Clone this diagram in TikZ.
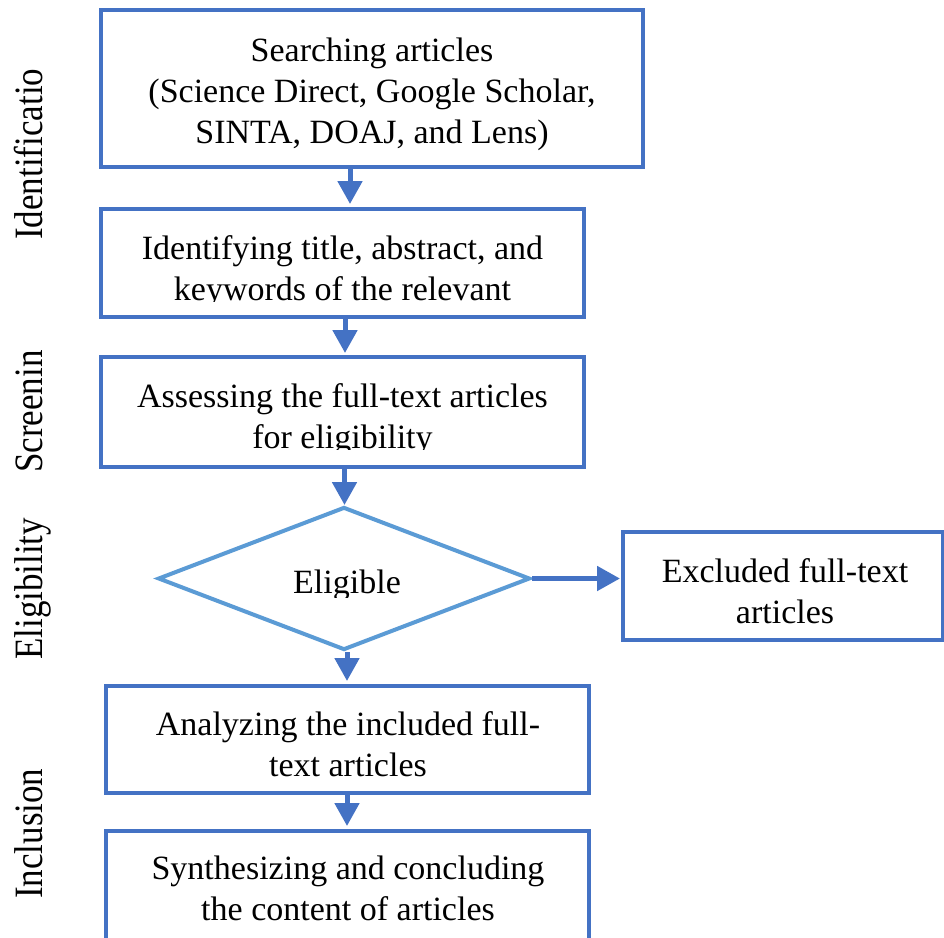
\documentclass[tikz,border=0pt]{standalone}
\usepackage{fontspec}
\setmainfont{Liberation Serif}
\usepackage{graphicx}
\usetikzlibrary{arrows.meta,shapes.geometric}
\definecolor{boxblue}{HTML}{4472C4}
\definecolor{diablue}{HTML}{5B9BD5}
\begin{document}
\begin{tikzpicture}[x=1pt,y=-1pt,
  box/.style={draw=boxblue, line width=4pt, rectangle, inner sep=0pt},
  txt/.style={font=\fontsize{34pt}{41pt}\selectfont, align=center, inner sep=0pt, anchor=base},
  side/.style={font=\fontsize{35pt}{41pt}\selectfont, rotate=90, anchor=base west, inner sep=0pt},
  arr/.style={draw=boxblue, line width=5pt, -{Triangle[length=23pt,width=24pt]}},
]
\fill[white] (0,0) rectangle (944,937);
\useasboundingbox (0,0) rectangle (944,937);

% boxes
\node[box, minimum width=542pt, minimum height=157pt] (b1) at (372,88.5) {};
\node[box, minimum width=483pt, minimum height=108pt] (b2) at (342.5,263) {};
\node[box, minimum width=483pt, minimum height=110pt] (b3) at (342.5,412) {};
\node[draw=diablue, line width=4pt, diamond, minimum width=372pt, minimum height=143pt, inner sep=0pt] (dia) at (344,578.5) {};
\node[box, minimum width=320pt, minimum height=108pt] (ex) at (783,586) {};
\node[box, minimum width=483pt, minimum height=107pt] (b4) at (347.5,739.5) {};
\node[box, minimum width=483pt, minimum height=110pt] (b5) at (347.5,886) {};

% texts (base anchor = baseline of last line)
\node[txt] (t1) at (372,143) {Searching articles\\(Science Direct, Google Scholar,\\SINTA, DOAJ, and Lens)};
\begin{scope}
\clip (101,209) rectangle (584,301.5);
\node[txt] (t2) at (342.5,300) {Identifying title, abstract, and\\keywords of the relevant};
\end{scope}
\begin{scope}
\clip (101,357) rectangle (584,449.5);
\node[txt] (t3) at (342.5,448) {Assessing the full-text articles\\for eligibility};
\end{scope}
\begin{scope}
\clip (200,540) rectangle (500,597.5);
\node[txt] (t4) at (347,593) {Eligible};
\end{scope}
\node[txt] (t5) at (785,623) {Excluded full-text\\articles};
\node[txt] (t6) at (348,776) {Analyzing the included full-\\text articles};
\node[txt] (t7) at (348,920) {Synthesizing and concluding\\the content of articles};

% side labels
\node[side] (s1) at (42,240) {\scalebox{1}[1.15]{Identificatio}};
\node[side] (s2) at (42,473) {\scalebox{1}[1.15]{Screenin}};
\node[side] (s3) at (42,660) {\scalebox{1}[1.15]{Eligibility}};
\node[side] (s4) at (42,899) {\scalebox{1}[1.15]{Inclusion}};

% arrows
\coordinate (ax1) at (350,0);
\coordinate (ax2) at (345,0);
\coordinate (ax3) at (344.5,0);
\coordinate (ax4) at (347,0);
\draw[arr, shorten >=3pt] (b1.south -| ax1) -- (b2.north -| ax1);
\draw[arr, shorten >=2pt] (b2.south -| ax2) -- (b3.north -| ax2);
\draw[arr] (b3.south -| ax3) -- (dia.north -| ax3);
\draw[arr, shorten >=3pt] (dia.south -| ax4) -- (b4.north -| ax4);
\draw[arr, shorten >=3pt] (b4.south -| ax4) -- (b5.north -| ax4);
\draw[arr, shorten >=1pt] (dia.east) -- (dia.east -| ex.west);
\end{tikzpicture}
\end{document}
